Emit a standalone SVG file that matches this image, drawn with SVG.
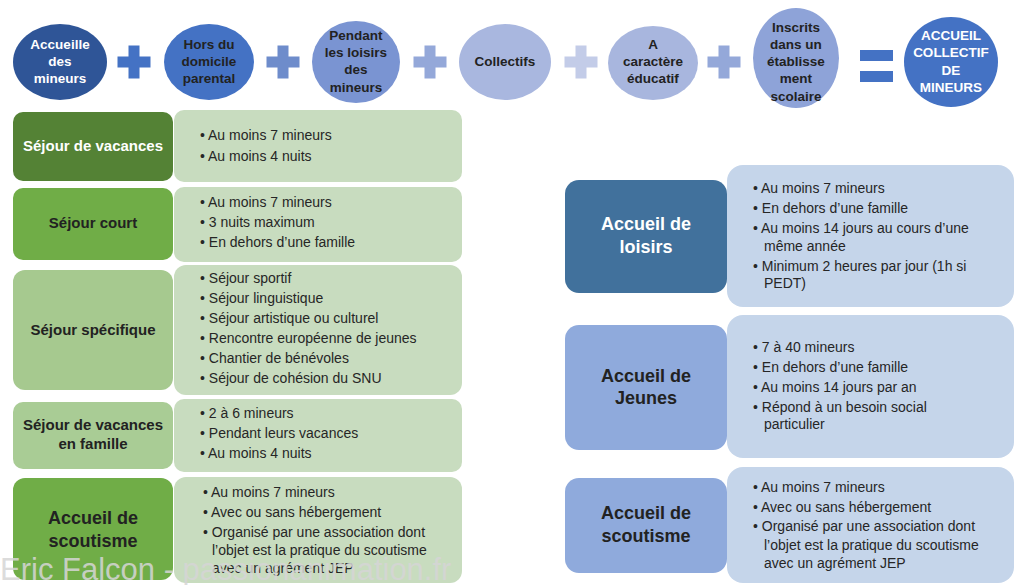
<svg xmlns="http://www.w3.org/2000/svg" width="1024" height="585" viewBox="0 0 1024 585">
<style>
.ct{font-family:"Liberation Sans",Arial,sans-serif;font-weight:bold;font-size:13.5px;text-anchor:middle}
.w{fill:#ffffff}
.d{fill:#222222}
.lb{font-family:"Liberation Sans",Arial,sans-serif;font-weight:bold;font-size:15px;text-anchor:middle}
.lb2{font-family:"Liberation Sans",Arial,sans-serif;font-weight:bold;font-size:18px;text-anchor:middle}
.bt{font-family:"Liberation Sans",Arial,sans-serif;font-size:14px;fill:#262626}
.gc{fill:#C8DCBF}
.bc{fill:#C5D5EA}
.wm{font-family:"Liberation Sans",Arial,sans-serif;font-size:31px;fill:#d6d6d6;opacity:0.85}
</style>
<defs>
<path id="plus" d="M-5.5,-16.5h11v11h11v11h-11v11h-11v-11h-11v-11h11z"/>
</defs>
<rect width="1024" height="585" fill="#ffffff"/>

<g id="top-row">
<g id="c1"><ellipse cx="60" cy="62" rx="47" ry="38" fill="#2F5597"/>
<text class="ct w" x="60" y="49">Accueille</text><text class="ct w" x="60" y="66">des</text><text class="ct w" x="60" y="83">mineurs</text></g>
<use href="#plus" x="134" y="62" fill="#4472C4"/>
<g id="c2"><ellipse cx="209" cy="62" rx="45" ry="38" fill="#4472C4"/>
<text class="ct d" x="209" y="49">Hors du</text><text class="ct d" x="209" y="66">domicile</text><text class="ct d" x="209" y="83">parental</text></g>
<use href="#plus" x="283" y="62" fill="#6E8CCB"/>
<g id="c3"><ellipse cx="356" cy="62" rx="44" ry="41" fill="#7A94D2"/>
<text class="ct d" x="356" y="40">Pendant</text><text class="ct d" x="356" y="57">les loisirs</text><text class="ct d" x="356" y="74">des</text><text class="ct d" x="356" y="92">mineurs</text></g>
<use href="#plus" x="430" y="62" fill="#94A8D9"/>
<g id="c4"><ellipse cx="505" cy="62" rx="46" ry="38" fill="#A9B7DF"/>
<text class="ct d" x="505" y="66">Collectifs</text></g>
<use href="#plus" x="581" y="62" fill="#C3CCE8"/>
<g id="c5"><ellipse cx="653" cy="63" rx="45" ry="37" fill="#A8B6DE"/>
<text class="ct d" x="653" y="49">A</text><text class="ct d" x="653" y="66">caractère</text><text class="ct d" x="653" y="83">éducatif</text></g>
<use href="#plus" x="724" y="62" fill="#94A8D9"/>
<g id="c6"><ellipse cx="796" cy="58" rx="43" ry="50" fill="#8EA3D8"/>
<text class="ct d" x="796" y="32">Inscrits</text><text class="ct d" x="796" y="49">dans un</text><text class="ct d" x="796" y="66">établisse</text><text class="ct d" x="796" y="83">ment</text><text class="ct d" x="796" y="101">scolaire</text></g>
<g id="equals" fill="#4472C4"><rect x="860" y="50" width="33" height="11"/><rect x="860" y="71" width="33" height="11"/></g>
<g id="c7"><ellipse cx="951" cy="62" rx="47" ry="45" fill="#4472C4"/>
<text class="ct w" x="951" y="40">ACCUEIL</text><text class="ct w" x="951" y="57">COLLECTIF</text><text class="ct w" x="951" y="75">DE</text><text class="ct w" x="951" y="92">MINEURS</text></g>
</g>

<g id="sejour-vacances">
<rect class="gc" x="174" y="110" width="288" height="72" rx="10"/>
<rect x="13" y="112" width="160" height="69" rx="10" fill="#548235"/>
<text class="lb w" x="93" y="151">Séjour de vacances</text>
<text class="bt" x="200" y="140">• Au moins 7 mineurs</text>
<text class="bt" x="200" y="161">• Au moins 4 nuits</text>
</g>

<g id="sejour-court">
<rect class="gc" x="174" y="187" width="288" height="75" rx="10"/>
<rect x="13" y="188" width="160" height="72" rx="10" fill="#70AD47"/>
<text class="lb d" x="93" y="228">Séjour court</text>
<text class="bt" x="200" y="207">• Au moins 7 mineurs</text>
<text class="bt" x="200" y="227">• 3 nuits maximum</text>
<text class="bt" x="200" y="247">• En dehors d’une famille</text>
</g>

<g id="sejour-specifique">
<rect class="gc" x="174" y="265" width="288" height="130" rx="12"/>
<rect x="13" y="270" width="160" height="120" rx="12" fill="#A6C98F"/>
<text class="lb d" x="93" y="335">Séjour spécifique</text>
<text class="bt" x="200" y="283">• Séjour sportif</text>
<text class="bt" x="200" y="303">• Séjour linguistique</text>
<text class="bt" x="200" y="323">• Séjour artistique ou culturel</text>
<text class="bt" x="200" y="343">• Rencontre européenne de jeunes</text>
<text class="bt" x="200" y="363">• Chantier de bénévoles</text>
<text class="bt" x="200" y="383">• Séjour de cohésion du SNU</text>
</g>

<g id="sejour-famille">
<rect class="gc" x="174" y="399" width="288" height="73" rx="10"/>
<rect x="13" y="402" width="160" height="67" rx="10" fill="#A9CC95"/>
<text class="lb d" x="93" y="430">Séjour de vacances</text>
<text class="lb d" x="93" y="449">en famille</text>
<text class="bt" x="200" y="418">• 2 à 6 mineurs</text>
<text class="bt" x="200" y="438">• Pendant leurs vacances</text>
<text class="bt" x="200" y="458">• Au moins 4 nuits</text>
</g>

<g id="scoutisme-gauche">
<rect class="gc" x="174" y="477" width="288" height="106" rx="12"/>
<rect x="13" y="478" width="160" height="102" rx="12" fill="#70AD47"/>
<text class="lb2 d" x="93" y="524">Accueil de</text>
<text class="lb2 d" x="93" y="547">scoutisme</text>
<text class="bt" x="203" y="497">• Au moins 7 mineurs</text>
<text class="bt" x="203" y="517">• Avec ou sans hébergement</text>
<text class="bt" x="203" y="537">• Organisé par une association dont</text>
<text class="bt" x="212" y="555">l’objet est la pratique du scoutisme</text>
<text class="bt" x="212" y="573">avec un agrément JEP</text>
</g>

<g id="accueil-loisirs">
<rect class="bc" x="727" y="165" width="287" height="142" rx="16"/>
<rect x="565" y="180" width="162" height="113" rx="14" fill="#41719C"/>
<text class="lb2 w" x="646" y="230">Accueil de</text>
<text class="lb2 w" x="646" y="253">loisirs</text>
<text class="bt" x="753" y="193">• Au moins 7 mineurs</text>
<text class="bt" x="753" y="213">• En dehors d’une famille</text>
<text class="bt" x="753" y="233">• Au moins 14 jours au cours d’une</text>
<text class="bt" x="764" y="251">même année</text>
<text class="bt" x="753" y="271">• Minimum 2 heures par jour (1h si</text>
<text class="bt" x="764" y="288">PEDT)</text>
</g>

<g id="accueil-jeunes">
<rect class="bc" x="727" y="315" width="287" height="143" rx="16"/>
<rect x="565" y="325" width="162" height="125" rx="14" fill="#8FAADC"/>
<text class="lb2 d" x="646" y="382">Accueil de</text>
<text class="lb2 d" x="646" y="404">Jeunes</text>
<text class="bt" x="753" y="352">• 7 à 40 mineurs</text>
<text class="bt" x="753" y="372">• En dehors d’une famille</text>
<text class="bt" x="753" y="392">• Au moins 14 jours par an</text>
<text class="bt" x="753" y="412">• Répond à un besoin social</text>
<text class="bt" x="764" y="429">particulier</text>
</g>

<g id="scoutisme-droite">
<rect class="bc" x="727" y="467" width="287" height="116" rx="16"/>
<rect x="565" y="478" width="162" height="95" rx="14" fill="#8FAADC"/>
<text class="lb2 d" x="646" y="519">Accueil de</text>
<text class="lb2 d" x="646" y="542">scoutisme</text>
<text class="bt" x="753" y="492">• Au moins 7 mineurs</text>
<text class="bt" x="753" y="512">• Avec ou sans hébergement</text>
<text class="bt" x="753" y="531">• Organisé par une association dont</text>
<text class="bt" x="764" y="550">l’objet est la pratique du scoutisme</text>
<text class="bt" x="764" y="568">avec un agrément JEP</text>
</g>

<g id="connectors"></g>

<text class="wm" x="0" y="580">Eric Falcon - passionanimation.fr</text>
</svg>
